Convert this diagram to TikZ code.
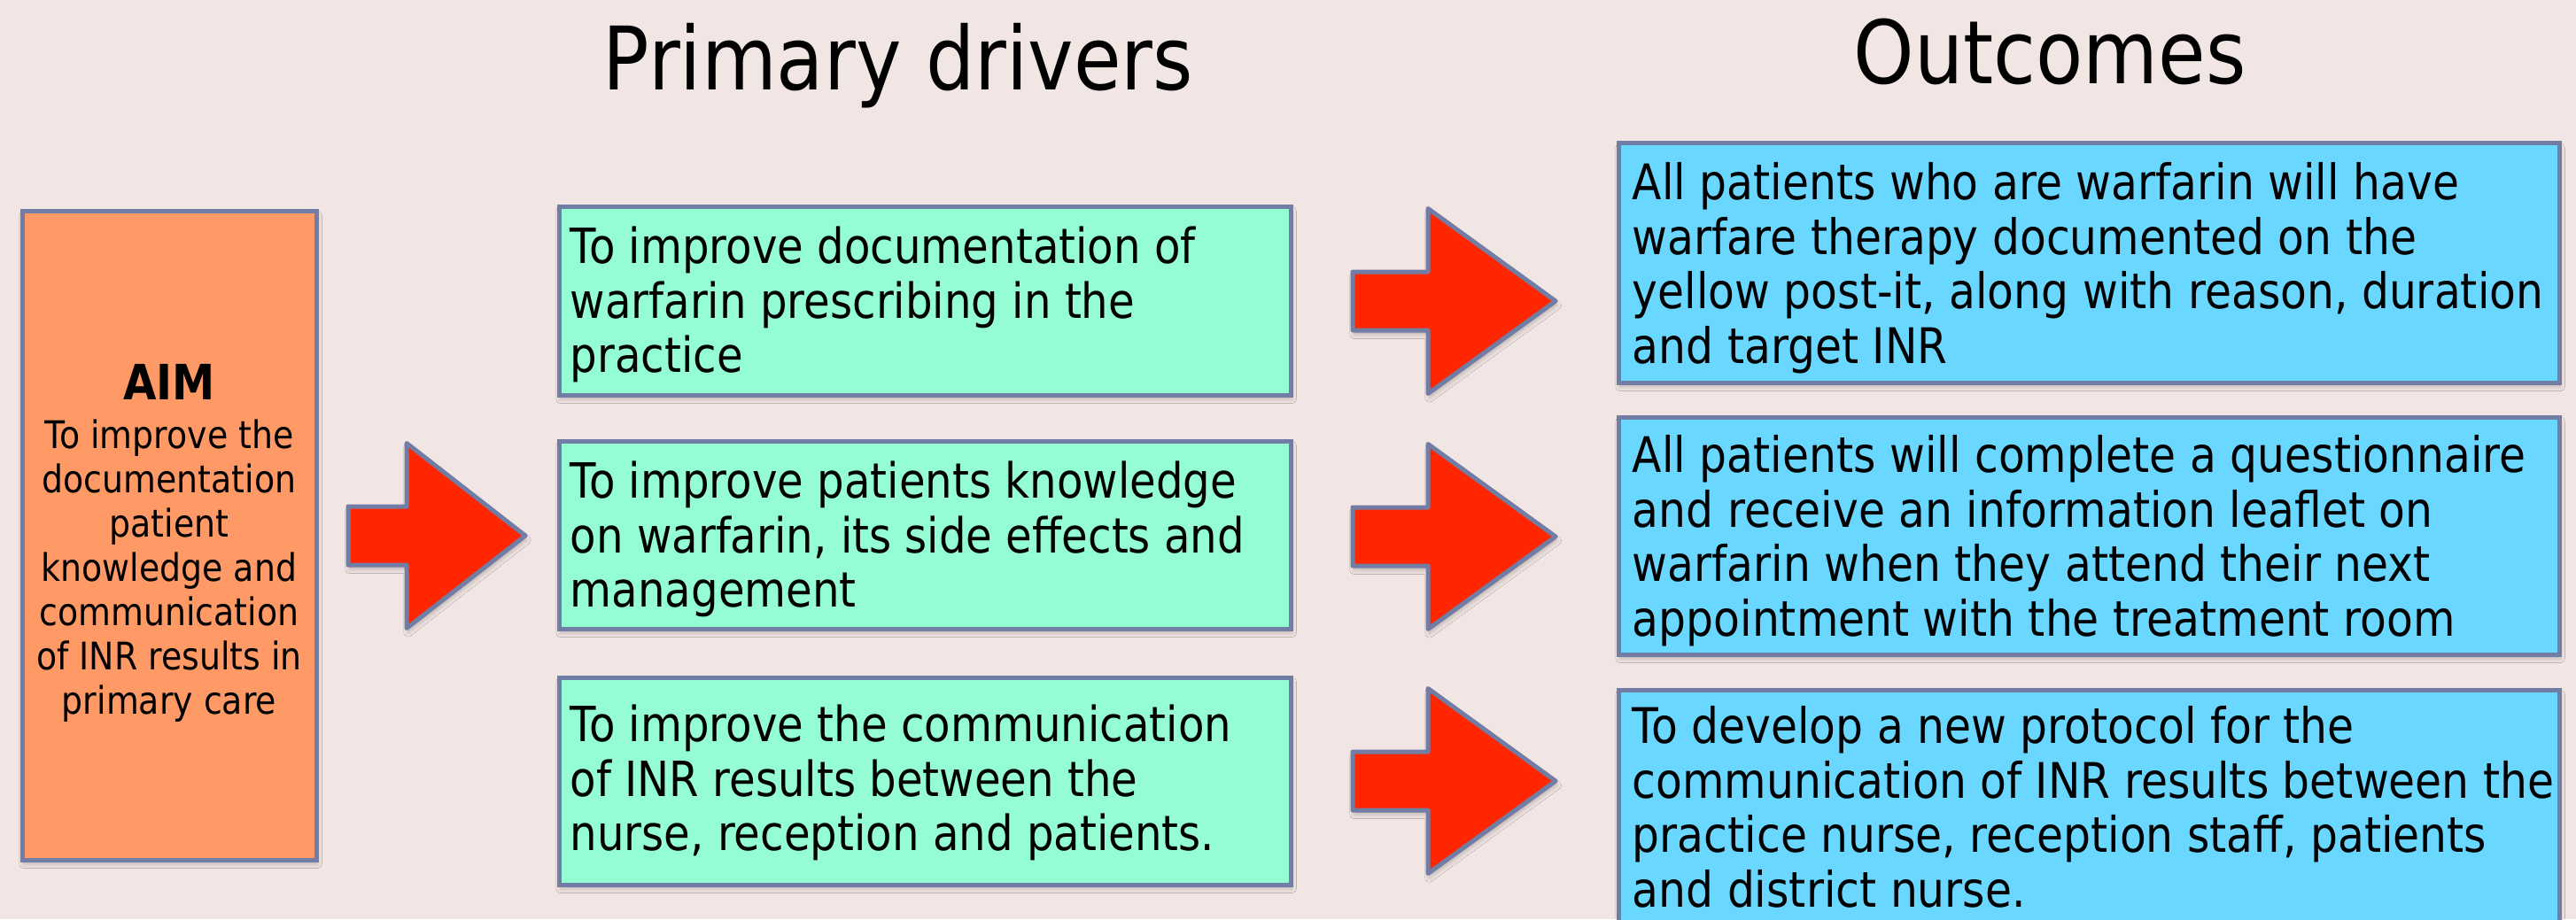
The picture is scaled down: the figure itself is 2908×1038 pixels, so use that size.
\documentclass[tikz,border=0pt]{standalone}
\usepackage{fontspec}
\setmainfont{DejaVu Sans}[FakeStretch=0.88]
\usetikzlibrary{fit,shadows.blur}

\definecolor{pagebg}{HTML}{F2E6E4}
\definecolor{edge}{HTML}{717DA5}
\definecolor{aimfill}{HTML}{FF9966}
\definecolor{drvfill}{HTML}{94FDD4}
\definecolor{outfill}{HTML}{69D7FF}
\definecolor{arrowred}{HTML}{FF2600}

\tikzset{
  softshadow/.style={blur shadow={shadow xshift=0.4pt, shadow yshift=-1.2pt,
      shadow opacity=22, shadow blur radius=1.2pt}},
  panel/.style={draw=edge, line width=1.25pt, inner sep=0pt, softshadow},
  aimbox/.style={panel, fill=aimfill},
  drvbox/.style={panel, fill=drvfill},
  outbox/.style={panel, fill=outfill},
  boxtext/.style={inner sep=0pt, anchor=north west, align=left,
      font=\fontsize{13.7}{15.375}\selectfont},
  outtext/.style={boxtext, font=\fontsize{13.85}{15.375}\selectfont},
  aimtext/.style={inner sep=0pt, anchor=north, align=center,
      font=\fontsize{10.75}{12.5}\selectfont},
  heading/.style={inner sep=0pt, anchor=base,
      font=\fontsize{24.75}{30}\selectfont},
  arrowshape/.style={draw=edge, fill=arrowred, line width=1.25pt,
      line join=round, softshadow},
  pics/blockarrow/.style 2 args={code={
    \draw[arrowshape] (0,-33) -- (#1,-33) -- (#1,-104.5) -- (#1+#2,0)
      -- (#1,104.5) -- (#1,33) -- (0,33) -- cycle;
  }},
}

\newcommand{\firstline}{\rule{0pt}{15pt}}

\begin{document}
\begin{tikzpicture}[x=0.25pt,y=-0.25pt]
  % page
  \fill[pagebg] (0,0) rectangle (2908,1038);
  \useasboundingbox (0,0) rectangle (2908,1038);

  % column headings
  \node[heading] (hdrv) at (1014,102) {Primary drivers};
  \node[heading] (hout) at (2314,95) {Outcomes};

  % aim
  \node[aimbox, fit={(25,238) (357,971)}] (aim) {};
  \node[inner sep=0pt, anchor=base, font=\bfseries\fontsize{13.75}{16}\selectfont]
    (aimhead) at (191,451) {AIM};
  \node[aimtext] (aimbody) at (191,458) {\rule{0pt}{12pt}To improve the\\documentation\\patient\\knowledge and\\communication\\of INR results in\\primary care};

  % primary drivers
  \node[drvbox, fit={(631,233) (1457,446)}] (d1) {};
  \node[drvbox, fit={(631,498) (1457,710)}] (d2) {};
  \node[drvbox, fit={(631,765) (1457,999)}] (d3) {};
  \node[boxtext] (d1t) at (643,237) {\firstline To improve documentation of\\warfarin prescribing in the\\practice};
  \node[boxtext] (d2t) at (643,502) {\firstline To improve patients knowledge\\on warfarin, its side effects and\\management};
  \node[boxtext] (d3t) at (643,777) {\firstline To improve the communication\\of INR results between the\\nurse, reception and patients.};

  % outcomes
  \node[outbox, fit={(1827,162) (2889,432)}] (o1) {};
  \node[outbox, fit={(1827,471) (2889,739)}] (o2) {};
  \node[outbox, fit={(1827,779) (2889,1080)}] (o3) {};
  \node[outtext] (o1t) at (1842,165) {\firstline All patients who are warfarin will have\\warfare therapy documented on the\\yellow post-it, along with reason, duration\\and target INR};
  \node[outtext] (o2t) at (1842,473) {\firstline All patients will complete a questionnaire\\and receive an information leaflet on\\warfarin when they attend their next\\appointment with the treatment room};
  \node[outtext] (o3t) at (1842,779) {\firstline To develop a new protocol for the\\communication of INR results between the\\practice nurse, reception staff, patients\\and district nurse.};

  % block arrows
  \pic at (393,605) {blockarrow={66}{134}};
  \pic at (1527,340) {blockarrow={85}{144}};
  \pic at (1527,606) {blockarrow={85}{144}};
  \pic at (1527,882) {blockarrow={85}{144}};
\end{tikzpicture}
\end{document}
